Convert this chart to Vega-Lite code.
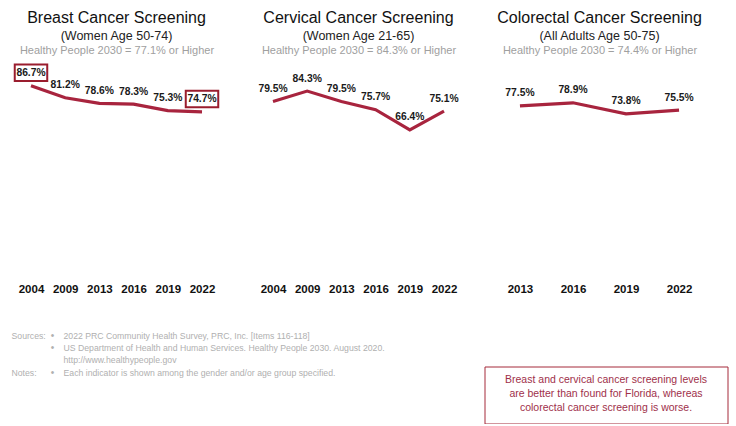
{
  "$schema": "https://vega.github.io/schema/vega-lite/v6.json",
  "padding": {"left": 10.5, "top": 9, "right": 0, "bottom": 0},
  "background": "white",
  "config": {
    "view": {"stroke": null},
    "font": "Liberation Sans",
    "title": {"font": "Liberation Sans", "fontSize": 16, "fontWeight": "normal", "color": "#111111", "subtitleFont": "Liberation Sans", "subtitleFontSize": 12.5, "subtitleColor": "#222222", "subtitlePadding": 4, "anchor": "middle", "offset": 2},
    "axis": {"grid": false, "domain": false, "ticks": false}
  },
  "vconcat": [
    {
      "hconcat": [
        {
          "width": 210, "height": 217,
          "title": {"text": "Breast Cancer Screening", "subtitle": "(Women Age 50-74)"},
          "data": {"values": [
            {"year": "2004", "value": 0.867, "boxed": true},
            {"year": "2009", "value": 0.812, "boxed": false},
            {"year": "2013", "value": 0.786, "boxed": false},
            {"year": "2016", "value": 0.783, "boxed": false},
            {"year": "2019", "value": 0.753, "boxed": false},
            {"year": "2022", "value": 0.747, "boxed": true}
          ]},
          "encoding": {
            "y": {"field": "value", "type": "quantitative", "scale": {"domain": [0, 1]}, "axis": null}
          },
          "layer": [
            {"mark": {"type": "line", "color": "#a8243e", "strokeWidth": 3.2},
             "encoding": {"x": {"field": "year", "type": "ordinal", "scale": {"type": "point", "padding": 0.57},
               "axis": {"orient": "bottom", "title": null, "labelAngle": 0, "labelFont": "Liberation Sans", "labelFontSize": 11.5, "labelFontWeight": "bold", "labelColor": "#111111", "labelPadding": 9.5}}}},
            {"mark": {"type": "text", "font": "Liberation Sans", "fontSize": 10.3, "fontWeight": "bold", "color": "#1a1a1a", "yOffset": -12.5},
             "encoding": {"x": {"field": "year", "type": "ordinal", "scale": {"type": "point", "padding": 0.57},
               "axis": {"orient": "top", "title": "Healthy People 2030 = 77.1% or Higher", "titleColor": "#a0a0a0", "titleFontSize": 11, "titleFontWeight": "normal", "titlePadding": 2, "labels": false}},
               "text": {"field": "value", "format": ".1%"}}},
            {"transform": [{"filter": "datum.boxed"}],
             "mark": {"type": "point", "shape": "M-1,-0.508H1V0.508H-1Z", "size": 1056, "filled": false, "stroke": "#9a1d2e", "strokeWidth": 2, "opacity": 1, "yOffset": -13},
             "encoding": {"x": {"field": "year", "type": "ordinal", "scale": {"type": "point", "padding": 0.57}, "axis": null}}}
          ],
          "resolve": {"axis": {"x": "independent"}}
        },
        {
          "width": 210, "height": 217,
          "title": {"text": "Cervical Cancer Screening", "subtitle": "(Women Age 21-65)"},
          "data": {"values": [
            {"year": "2004", "value": 0.795},
            {"year": "2009", "value": 0.843},
            {"year": "2013", "value": 0.795},
            {"year": "2016", "value": 0.757},
            {"year": "2019", "value": 0.664},
            {"year": "2022", "value": 0.751}
          ]},
          "encoding": {
            "y": {"field": "value", "type": "quantitative", "scale": {"domain": [0, 1]}, "axis": null}
          },
          "layer": [
            {"mark": {"type": "line", "color": "#a8243e", "strokeWidth": 3.2},
             "encoding": {"x": {"field": "year", "type": "ordinal", "scale": {"type": "point", "padding": 0.57},
               "axis": {"orient": "bottom", "title": null, "labelAngle": 0, "labelFont": "Liberation Sans", "labelFontSize": 11.5, "labelFontWeight": "bold", "labelColor": "#111111", "labelPadding": 9.5}}}},
            {"mark": {"type": "text", "font": "Liberation Sans", "fontSize": 10.3, "fontWeight": "bold", "color": "#1a1a1a", "yOffset": -12.5},
             "encoding": {"x": {"field": "year", "type": "ordinal", "scale": {"type": "point", "padding": 0.57},
               "axis": {"orient": "top", "title": "Healthy People 2030 = 84.3% or Higher", "titleColor": "#a0a0a0", "titleFontSize": 11, "titleFontWeight": "normal", "titlePadding": 2, "labels": false}},
               "text": {"field": "value", "format": ".1%"}}}
          ],
          "resolve": {"axis": {"x": "independent"}}
        },
        {
          "width": 210, "height": 217,
          "title": {"text": "Colorectal Cancer Screening", "subtitle": "(All Adults Age 50-75)"},
          "data": {"values": [
            {"year": "2013", "value": 0.775},
            {"year": "2016", "value": 0.789},
            {"year": "2019", "value": 0.738},
            {"year": "2022", "value": 0.755}
          ]},
          "encoding": {
            "y": {"field": "value", "type": "quantitative", "scale": {"domain": [0, 1]}, "axis": null}
          },
          "layer": [
            {"mark": {"type": "line", "color": "#a8243e", "strokeWidth": 3.2},
             "encoding": {"x": {"field": "year", "type": "ordinal", "scale": {"type": "point", "padding": 0.48},
               "axis": {"orient": "bottom", "title": null, "labelAngle": 0, "labelFont": "Liberation Sans", "labelFontSize": 11.5, "labelFontWeight": "bold", "labelColor": "#111111", "labelPadding": 9.5}}}},
            {"mark": {"type": "text", "font": "Liberation Sans", "fontSize": 10.3, "fontWeight": "bold", "color": "#1a1a1a", "yOffset": -12.5},
             "encoding": {"x": {"field": "year", "type": "ordinal", "scale": {"type": "point", "padding": 0.48},
               "axis": {"orient": "top", "title": "Healthy People 2030 = 74.4% or Higher", "titleColor": "#a0a0a0", "titleFontSize": 11, "titleFontWeight": "normal", "titlePadding": 2, "labels": false}},
               "text": {"field": "value", "format": ".1%"}}}
          ],
          "resolve": {"axis": {"x": "independent"}}
        }
      ],
      "spacing": 31
    },
    {
      "hconcat": [
        {
          "width": 41, "height": 49.3,
          "data": {"values": [
            {"line": 1, "label": "Sources:", "bullet": "•", "body": "2022 PRC Community Health Survey, PRC, Inc. [Items 116-118]"},
            {"line": 2, "label": "", "bullet": "•", "body": "US Department of Health and Human Services. Healthy People 2030. August 2020."},
            {"line": 3, "label": "", "bullet": "", "body": "http://www.healthypeople.gov"},
            {"line": 4, "label": "Notes:", "bullet": "•", "body": "Each indicator is shown among the gender and/or age group specified."}
          ]},
          "encoding": {
            "y": {"field": "line", "type": "ordinal", "scale": {"type": "point", "padding": 0.5}, "axis": null}
          },
          "layer": [
            {"mark": {"type": "text", "align": "left", "fontSize": 8.7, "color": "#b0b0b0"},
             "encoding": {"x": {"datum": "label", "type": "nominal", "scale": {"type": "point", "domain": ["label", "bullet"], "padding": 0}, "axis": null}, "text": {"field": "label"}}},
            {"mark": {"type": "text", "align": "center", "fontSize": 10, "color": "#b0b0b0"},
             "encoding": {"x": {"datum": "bullet", "type": "nominal", "scale": {"type": "point", "domain": ["label", "bullet"], "padding": 0}, "axis": null}, "text": {"field": "bullet"}}},
            {"mark": {"type": "text", "align": "left", "dx": 11, "fontSize": 8.7, "color": "#b0b0b0"},
             "encoding": {"x": {"datum": "bullet", "type": "nominal", "scale": {"type": "point", "domain": ["label", "bullet"], "padding": 0}, "axis": null}, "text": {"field": "body"}}}
          ]
        },
        {
          "vconcat": [
            {"width": 243, "height": 35.5, "data": {"values": []}, "mark": "text", "encoding": {}},
            {
              "width": 243, "height": 57,
              "view": {"stroke": "#a52a3a", "strokeWidth": 1},
              "data": {"values": [
                {"line": 1, "text": "Breast and cervical cancer screening levels"},
                {"line": 2, "text": "are better than found for Florida, whereas"},
                {"line": 3, "text": "colorectal cancer screening is worse."}
              ]},
              "mark": {"type": "text", "fontSize": 10.5, "color": "#a0304a"},
              "encoding": {
                "y": {"field": "line", "type": "ordinal", "scale": {"type": "point", "padding": 1.31, "align": 0.46}, "axis": null},
                "text": {"field": "text"}
              }
            }
          ],
          "spacing": 0
        }
      ],
      "spacing": 98
    }
  ],
  "spacing": 34.5
}
